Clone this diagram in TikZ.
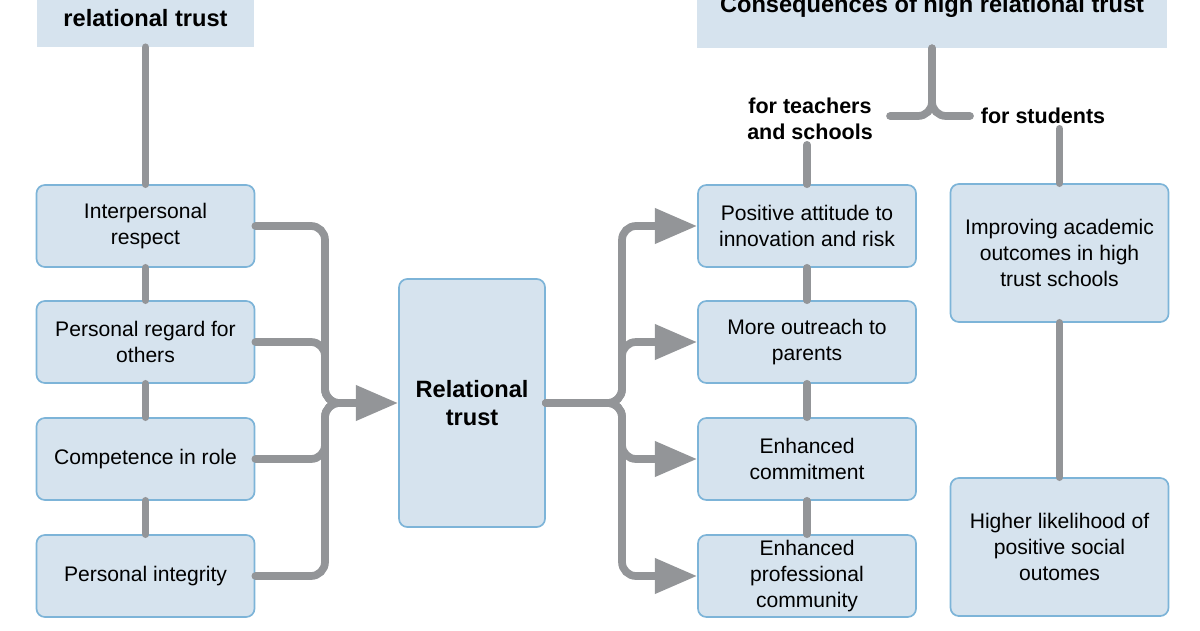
\documentclass[tikz,border=0pt]{standalone}
\usepackage{fontspec}
\setmainfont{Liberation Sans}
\usetikzlibrary{arrows.meta, positioning, calc}

\definecolor{boxfill}{HTML}{D6E3EE}
\definecolor{boxline}{HTML}{7DB4D8}
\definecolor{pipegray}{HTML}{939598}

\begin{document}
\begin{tikzpicture}[x=0.025cm, y=-0.025cm,
  item/.style={rectangle, rounded corners=6pt, draw=boxline, line width=1.2pt,
               fill=boxfill, minimum width=5.45cm, minimum height=2.05cm,
               align=center, inner sep=2pt, font=\fontsize{15}{18.5}\selectfont},
  header/.style={rectangle, fill=boxfill, align=center, inner sep=0pt,
                 font=\fontsize{16.8}{20}\selectfont\bfseries},
  pipe/.style={draw=pipegray, line width=5.5pt, line cap=round, rounded corners=10pt},
  flow/.style={pipe, -{Triangle[length=30pt, width=24pt]}},
  tag/.style={font=\fontsize{15.3}{18.5}\selectfont\bfseries, align=center}
]
\useasboundingbox (0,0) rectangle (1200,630);
\clip (0,0) rectangle (1200,630);

% headers
\node[header, minimum width=5.425cm, minimum height=1.45cm] (hin) at (145.5,18) {relational trust};
\node[header, minimum width=11.75cm, minimum height=2.1cm] (hout) at (932,6) {Consequences of high relational trust};

% elements of trust
\node[item] (l1) at (145.5,226) {Interpersonal\\respect};
\node[item] (l2) at (145.5,342) {Personal regard for\\others};
\node[item] (l3) at (145.5,459) {Competence in role};
\node[item] (l4) at (145.5,576) {Personal integrity};

\node[item, minimum width=3.65cm, minimum height=6.2cm,
      font=\fontsize{16.8}{20}\selectfont\bfseries] (rt) at (472,403) {Relational\\trust};

% consequences
\node[item] (r1) at (807,226) {Positive attitude to\\innovation and risk};
\node[item] (r2) at (807,342) {More outreach to\\parents};
\node[item] (r3) at (807,459) {Enhanced\\commitment};
\node[item] (r4) at (807,576) {Enhanced\\professional\\community};

\node[item, minimum height=3.45cm] (s1) at (1059.5,253) {Improving academic\\outcomes in high\\trust schools};
\node[item, minimum height=3.45cm] (s2) at (1059.5,547) {Higher likelihood of\\positive social\\outomes};

\node[tag] (tch) at (810,119) {for teachers\\and schools};
\node[tag] (stu) at (1043,116) {for students};

% connectors
\foreach \a/\b in {hin/l1, l1/l2, l2/l3, l3/l4, r1/r2, r2/r3, r3/r4, s1/s2}
  \draw[pipe] (\a.south) -- (\b.north);

\coordinate (jl) at (325,403);
\coordinate (jla) at (360,403);
\foreach \b in {l1, l2, l3, l4}
  \draw[pipe] (\b.east) -| (jl) -- (jla);
\draw[flow] (jla) -- (rt.west);

\coordinate (jr) at (622,403);
\foreach \b in {r1, r2, r3, r4}
  \draw[flow] (rt.east) -- (jr) |- (\b.west);

\coordinate (jt) at (932,116);
\coordinate (tl) at (890,116);
\coordinate (tr) at (970,116);
\draw[pipe] (hout.south) -- (jt) -- (tl);
\draw[pipe] (hout.south) -- (jt) -- (tr);

\draw[pipe] (r1.north |- tch.south) -- (r1.north);
\draw[pipe] (s1.north |- stu.south) -- (s1.north);

\end{tikzpicture}
\end{document}
